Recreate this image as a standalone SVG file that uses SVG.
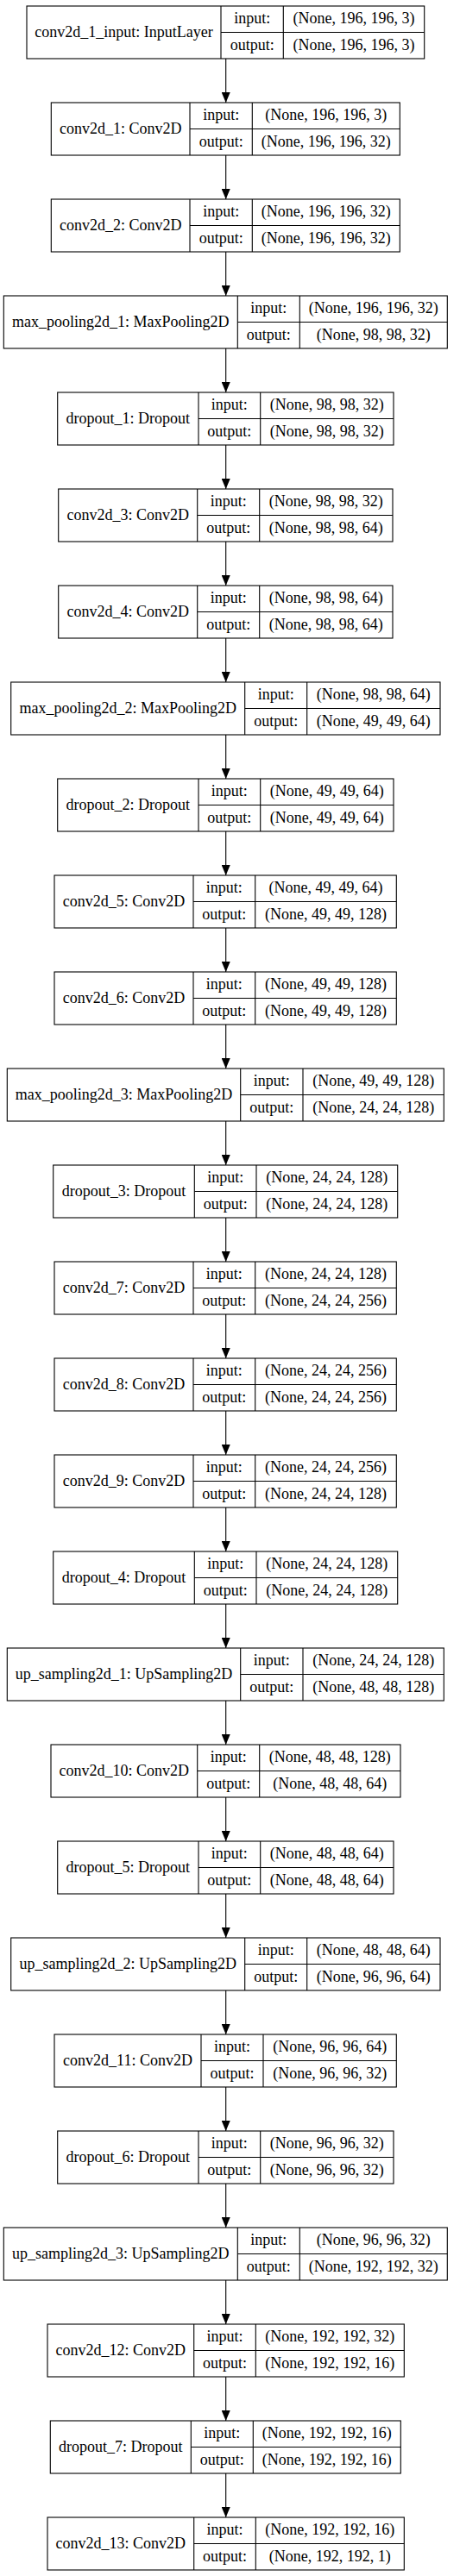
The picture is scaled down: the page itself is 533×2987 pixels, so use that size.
<svg xmlns="http://www.w3.org/2000/svg" width="533" height="2987" viewBox="0 0 533 2987">
<style>
rect{fill:#fff;stroke:#000;stroke-width:1.1}
.n line{stroke:#000;stroke-width:1.1}
text{font-family:"Liberation Serif","Times New Roman",serif;font-size:18px;text-anchor:middle;fill:#000}
.e line{stroke:#000;stroke-width:1.1}
</style>
<defs>
<marker id="ah" markerWidth="12" markerHeight="10" refX="12" refY="5" orient="auto" markerUnits="userSpaceOnUse"><path d="M0,0 L12,5 L0,10 z" fill="#000"/></marker>
</defs>
<rect x="0" y="0" width="533" height="2987" style="stroke:none;fill:#fff"/>
<g class="e" id="connectors">
<line x1="261.7" y1="68" x2="261.7" y2="119" marker-end="url(#ah)"/>
<line x1="261.7" y1="180" x2="261.7" y2="231" marker-end="url(#ah)"/>
<line x1="261.7" y1="292" x2="261.7" y2="343" marker-end="url(#ah)"/>
<line x1="261.7" y1="404" x2="261.7" y2="455" marker-end="url(#ah)"/>
<line x1="261.7" y1="516" x2="261.7" y2="567" marker-end="url(#ah)"/>
<line x1="261.7" y1="628" x2="261.7" y2="679" marker-end="url(#ah)"/>
<line x1="261.7" y1="740" x2="261.7" y2="791" marker-end="url(#ah)"/>
<line x1="261.7" y1="852" x2="261.7" y2="903" marker-end="url(#ah)"/>
<line x1="261.7" y1="964" x2="261.7" y2="1015" marker-end="url(#ah)"/>
<line x1="261.7" y1="1076" x2="261.7" y2="1127" marker-end="url(#ah)"/>
<line x1="261.7" y1="1188" x2="261.7" y2="1239" marker-end="url(#ah)"/>
<line x1="261.7" y1="1300" x2="261.7" y2="1351" marker-end="url(#ah)"/>
<line x1="261.7" y1="1412" x2="261.7" y2="1463" marker-end="url(#ah)"/>
<line x1="261.7" y1="1524" x2="261.7" y2="1575" marker-end="url(#ah)"/>
<line x1="261.7" y1="1636" x2="261.7" y2="1687" marker-end="url(#ah)"/>
<line x1="261.7" y1="1748" x2="261.7" y2="1799" marker-end="url(#ah)"/>
<line x1="261.7" y1="1860" x2="261.7" y2="1911" marker-end="url(#ah)"/>
<line x1="261.7" y1="1972" x2="261.7" y2="2023" marker-end="url(#ah)"/>
<line x1="261.7" y1="2084" x2="261.7" y2="2135" marker-end="url(#ah)"/>
<line x1="261.7" y1="2196" x2="261.7" y2="2247" marker-end="url(#ah)"/>
<line x1="261.7" y1="2308" x2="261.7" y2="2359" marker-end="url(#ah)"/>
<line x1="261.7" y1="2420" x2="261.7" y2="2471" marker-end="url(#ah)"/>
<line x1="261.7" y1="2532" x2="261.7" y2="2583" marker-end="url(#ah)"/>
<line x1="261.7" y1="2644" x2="261.7" y2="2695" marker-end="url(#ah)"/>
<line x1="261.7" y1="2756" x2="261.7" y2="2807" marker-end="url(#ah)"/>
<line x1="261.7" y1="2868" x2="261.7" y2="2919" marker-end="url(#ah)"/>
</g>

<g class="n" id="conv2d_1_input" transform="translate(0,7)">
<rect x="31" y="0" width="460.7" height="61"/>
<line x1="256" y1="0" x2="256" y2="61"/><line x1="328.3" y1="0" x2="328.3" y2="61"/><line x1="256" y1="30.5" x2="491.7" y2="30.5"/>
<text x="143.5" y="35.5">conv2d_1_input: InputLayer</text>
<text x="292.15" y="20.3">input:</text><text x="292.15" y="50.8">output:</text>
<text x="410" y="20.3">(None, 196, 196, 3)</text><text x="410" y="50.8">(None, 196, 196, 3)</text>
</g>

<g class="n" id="conv2d_1" transform="translate(0,119)">
<rect x="59.3" y="0" width="404" height="61"/>
<line x1="220" y1="0" x2="220" y2="61"/><line x1="292.3" y1="0" x2="292.3" y2="61"/><line x1="220" y1="30.5" x2="463.3" y2="30.5"/>
<text x="139.65" y="35.5">conv2d_1: Conv2D</text>
<text x="256.15" y="20.3">input:</text><text x="256.15" y="50.8">output:</text>
<text x="377.8" y="20.3">(None, 196, 196, 3)</text><text x="377.8" y="50.8">(None, 196, 196, 32)</text>
</g>

<g class="n" id="conv2d_2" transform="translate(0,231)">
<rect x="59.3" y="0" width="404" height="61"/>
<line x1="220" y1="0" x2="220" y2="61"/><line x1="292.3" y1="0" x2="292.3" y2="61"/><line x1="220" y1="30.5" x2="463.3" y2="30.5"/>
<text x="139.65" y="35.5">conv2d_2: Conv2D</text>
<text x="256.15" y="20.3">input:</text><text x="256.15" y="50.8">output:</text>
<text x="377.8" y="20.3">(None, 196, 196, 32)</text><text x="377.8" y="50.8">(None, 196, 196, 32)</text>
</g>

<g class="n" id="max_pooling2d_1" transform="translate(0,343)">
<rect x="4.3" y="0" width="514" height="61"/>
<line x1="275.3" y1="0" x2="275.3" y2="61"/><line x1="347.3" y1="0" x2="347.3" y2="61"/><line x1="275.3" y1="30.5" x2="518.3" y2="30.5"/>
<text x="139.8" y="35.5">max_pooling2d_1: MaxPooling2D</text>
<text x="311.3" y="20.3">input:</text><text x="311.3" y="50.8">output:</text>
<text x="432.8" y="20.3">(None, 196, 196, 32)</text><text x="432.8" y="50.8">(None, 98, 98, 32)</text>
</g>

<g class="n" id="dropout_1" transform="translate(0,455)">
<rect x="66.7" y="0" width="389.3" height="61"/>
<line x1="230" y1="0" x2="230" y2="61"/><line x1="301.7" y1="0" x2="301.7" y2="61"/><line x1="230" y1="30.5" x2="456" y2="30.5"/>
<text x="148.35" y="35.5">dropout_1: Dropout</text>
<text x="265.85" y="20.3">input:</text><text x="265.85" y="50.8">output:</text>
<text x="378.85" y="20.3">(None, 98, 98, 32)</text><text x="378.85" y="50.8">(None, 98, 98, 32)</text>
</g>

<g class="n" id="conv2d_3" transform="translate(0,567)">
<rect x="67.7" y="0" width="387.3" height="61"/>
<line x1="228.7" y1="0" x2="228.7" y2="61"/><line x1="300.7" y1="0" x2="300.7" y2="61"/><line x1="228.7" y1="30.5" x2="455" y2="30.5"/>
<text x="148.2" y="35.5">conv2d_3: Conv2D</text>
<text x="264.7" y="20.3">input:</text><text x="264.7" y="50.8">output:</text>
<text x="377.85" y="20.3">(None, 98, 98, 32)</text><text x="377.85" y="50.8">(None, 98, 98, 64)</text>
</g>

<g class="n" id="conv2d_4" transform="translate(0,679)">
<rect x="67.7" y="0" width="387.3" height="61"/>
<line x1="228.7" y1="0" x2="228.7" y2="61"/><line x1="300.7" y1="0" x2="300.7" y2="61"/><line x1="228.7" y1="30.5" x2="455" y2="30.5"/>
<text x="148.2" y="35.5">conv2d_4: Conv2D</text>
<text x="264.7" y="20.3">input:</text><text x="264.7" y="50.8">output:</text>
<text x="377.85" y="20.3">(None, 98, 98, 64)</text><text x="377.85" y="50.8">(None, 98, 98, 64)</text>
</g>

<g class="n" id="max_pooling2d_2" transform="translate(0,791)">
<rect x="12.7" y="0" width="497.3" height="61"/>
<line x1="283.7" y1="0" x2="283.7" y2="61"/><line x1="355.7" y1="0" x2="355.7" y2="61"/><line x1="283.7" y1="30.5" x2="510" y2="30.5"/>
<text x="148.2" y="35.5">max_pooling2d_2: MaxPooling2D</text>
<text x="319.7" y="20.3">input:</text><text x="319.7" y="50.8">output:</text>
<text x="432.85" y="20.3">(None, 98, 98, 64)</text><text x="432.85" y="50.8">(None, 49, 49, 64)</text>
</g>

<g class="n" id="dropout_2" transform="translate(0,903)">
<rect x="66.7" y="0" width="389.3" height="61"/>
<line x1="230" y1="0" x2="230" y2="61"/><line x1="301.7" y1="0" x2="301.7" y2="61"/><line x1="230" y1="30.5" x2="456" y2="30.5"/>
<text x="148.35" y="35.5">dropout_2: Dropout</text>
<text x="265.85" y="20.3">input:</text><text x="265.85" y="50.8">output:</text>
<text x="378.85" y="20.3">(None, 49, 49, 64)</text><text x="378.85" y="50.8">(None, 49, 49, 64)</text>
</g>

<g class="n" id="conv2d_5" transform="translate(0,1015)">
<rect x="63" y="0" width="396.3" height="61"/>
<line x1="224" y1="0" x2="224" y2="61"/><line x1="295.7" y1="0" x2="295.7" y2="61"/><line x1="224" y1="30.5" x2="459.3" y2="30.5"/>
<text x="143.5" y="35.5">conv2d_5: Conv2D</text>
<text x="259.85" y="20.3">input:</text><text x="259.85" y="50.8">output:</text>
<text x="377.5" y="20.3">(None, 49, 49, 64)</text><text x="377.5" y="50.8">(None, 49, 49, 128)</text>
</g>

<g class="n" id="conv2d_6" transform="translate(0,1127)">
<rect x="63" y="0" width="396.3" height="61"/>
<line x1="224" y1="0" x2="224" y2="61"/><line x1="295.7" y1="0" x2="295.7" y2="61"/><line x1="224" y1="30.5" x2="459.3" y2="30.5"/>
<text x="143.5" y="35.5">conv2d_6: Conv2D</text>
<text x="259.85" y="20.3">input:</text><text x="259.85" y="50.8">output:</text>
<text x="377.5" y="20.3">(None, 49, 49, 128)</text><text x="377.5" y="50.8">(None, 49, 49, 128)</text>
</g>

<g class="n" id="max_pooling2d_3" transform="translate(0,1239)">
<rect x="8.3" y="0" width="506" height="61"/>
<line x1="278.7" y1="0" x2="278.7" y2="61"/><line x1="351" y1="0" x2="351" y2="61"/><line x1="278.7" y1="30.5" x2="514.3" y2="30.5"/>
<text x="143.5" y="35.5">max_pooling2d_3: MaxPooling2D</text>
<text x="314.85" y="20.3">input:</text><text x="314.85" y="50.8">output:</text>
<text x="432.65" y="20.3">(None, 49, 49, 128)</text><text x="432.65" y="50.8">(None, 24, 24, 128)</text>
</g>

<g class="n" id="dropout_3" transform="translate(0,1351)">
<rect x="61.7" y="0" width="399" height="61"/>
<line x1="225.3" y1="0" x2="225.3" y2="61"/><line x1="297" y1="0" x2="297" y2="61"/><line x1="225.3" y1="30.5" x2="460.7" y2="30.5"/>
<text x="143.5" y="35.5">dropout_3: Dropout</text>
<text x="261.15" y="20.3">input:</text><text x="261.15" y="50.8">output:</text>
<text x="378.85" y="20.3">(None, 24, 24, 128)</text><text x="378.85" y="50.8">(None, 24, 24, 128)</text>
</g>

<g class="n" id="conv2d_7" transform="translate(0,1463)">
<rect x="63" y="0" width="396.3" height="61"/>
<line x1="224" y1="0" x2="224" y2="61"/><line x1="295.7" y1="0" x2="295.7" y2="61"/><line x1="224" y1="30.5" x2="459.3" y2="30.5"/>
<text x="143.5" y="35.5">conv2d_7: Conv2D</text>
<text x="259.85" y="20.3">input:</text><text x="259.85" y="50.8">output:</text>
<text x="377.5" y="20.3">(None, 24, 24, 128)</text><text x="377.5" y="50.8">(None, 24, 24, 256)</text>
</g>

<g class="n" id="conv2d_8" transform="translate(0,1575)">
<rect x="63" y="0" width="396.3" height="61"/>
<line x1="224" y1="0" x2="224" y2="61"/><line x1="295.7" y1="0" x2="295.7" y2="61"/><line x1="224" y1="30.5" x2="459.3" y2="30.5"/>
<text x="143.5" y="35.5">conv2d_8: Conv2D</text>
<text x="259.85" y="20.3">input:</text><text x="259.85" y="50.8">output:</text>
<text x="377.5" y="20.3">(None, 24, 24, 256)</text><text x="377.5" y="50.8">(None, 24, 24, 256)</text>
</g>

<g class="n" id="conv2d_9" transform="translate(0,1687)">
<rect x="63" y="0" width="396.3" height="61"/>
<line x1="224" y1="0" x2="224" y2="61"/><line x1="295.7" y1="0" x2="295.7" y2="61"/><line x1="224" y1="30.5" x2="459.3" y2="30.5"/>
<text x="143.5" y="35.5">conv2d_9: Conv2D</text>
<text x="259.85" y="20.3">input:</text><text x="259.85" y="50.8">output:</text>
<text x="377.5" y="20.3">(None, 24, 24, 256)</text><text x="377.5" y="50.8">(None, 24, 24, 128)</text>
</g>

<g class="n" id="dropout_4" transform="translate(0,1799)">
<rect x="61.7" y="0" width="399" height="61"/>
<line x1="225.3" y1="0" x2="225.3" y2="61"/><line x1="297" y1="0" x2="297" y2="61"/><line x1="225.3" y1="30.5" x2="460.7" y2="30.5"/>
<text x="143.5" y="35.5">dropout_4: Dropout</text>
<text x="261.15" y="20.3">input:</text><text x="261.15" y="50.8">output:</text>
<text x="378.85" y="20.3">(None, 24, 24, 128)</text><text x="378.85" y="50.8">(None, 24, 24, 128)</text>
</g>

<g class="n" id="up_sampling2d_1" transform="translate(0,1911)">
<rect x="8.3" y="0" width="506" height="61"/>
<line x1="278.7" y1="0" x2="278.7" y2="61"/><line x1="351" y1="0" x2="351" y2="61"/><line x1="278.7" y1="30.5" x2="514.3" y2="30.5"/>
<text x="143.5" y="35.5">up_sampling2d_1: UpSampling2D</text>
<text x="314.85" y="20.3">input:</text><text x="314.85" y="50.8">output:</text>
<text x="432.65" y="20.3">(None, 24, 24, 128)</text><text x="432.65" y="50.8">(None, 48, 48, 128)</text>
</g>

<g class="n" id="conv2d_10" transform="translate(0,2023)">
<rect x="59" y="0" width="405" height="61"/>
<line x1="228.7" y1="0" x2="228.7" y2="61"/><line x1="300.7" y1="0" x2="300.7" y2="61"/><line x1="228.7" y1="30.5" x2="464" y2="30.5"/>
<text x="143.85" y="35.5">conv2d_10: Conv2D</text>
<text x="264.7" y="20.3">input:</text><text x="264.7" y="50.8">output:</text>
<text x="382.35" y="20.3">(None, 48, 48, 128)</text><text x="382.35" y="50.8">(None, 48, 48, 64)</text>
</g>

<g class="n" id="dropout_5" transform="translate(0,2135)">
<rect x="66.7" y="0" width="389.3" height="61"/>
<line x1="230" y1="0" x2="230" y2="61"/><line x1="301.7" y1="0" x2="301.7" y2="61"/><line x1="230" y1="30.5" x2="456" y2="30.5"/>
<text x="148.35" y="35.5">dropout_5: Dropout</text>
<text x="265.85" y="20.3">input:</text><text x="265.85" y="50.8">output:</text>
<text x="378.85" y="20.3">(None, 48, 48, 64)</text><text x="378.85" y="50.8">(None, 48, 48, 64)</text>
</g>

<g class="n" id="up_sampling2d_2" transform="translate(0,2247)">
<rect x="12.7" y="0" width="497.3" height="61"/>
<line x1="283.7" y1="0" x2="283.7" y2="61"/><line x1="355.7" y1="0" x2="355.7" y2="61"/><line x1="283.7" y1="30.5" x2="510" y2="30.5"/>
<text x="148.2" y="35.5">up_sampling2d_2: UpSampling2D</text>
<text x="319.7" y="20.3">input:</text><text x="319.7" y="50.8">output:</text>
<text x="432.85" y="20.3">(None, 48, 48, 64)</text><text x="432.85" y="50.8">(None, 96, 96, 64)</text>
</g>

<g class="n" id="conv2d_11" transform="translate(0,2359)">
<rect x="63" y="0" width="396.3" height="61"/>
<line x1="233" y1="0" x2="233" y2="61"/><line x1="305" y1="0" x2="305" y2="61"/><line x1="233" y1="30.5" x2="459.3" y2="30.5"/>
<text x="148" y="35.5">conv2d_11: Conv2D</text>
<text x="269" y="20.3">input:</text><text x="269" y="50.8">output:</text>
<text x="382.15" y="20.3">(None, 96, 96, 64)</text><text x="382.15" y="50.8">(None, 96, 96, 32)</text>
</g>

<g class="n" id="dropout_6" transform="translate(0,2471)">
<rect x="66.7" y="0" width="389.3" height="61"/>
<line x1="230" y1="0" x2="230" y2="61"/><line x1="301.7" y1="0" x2="301.7" y2="61"/><line x1="230" y1="30.5" x2="456" y2="30.5"/>
<text x="148.35" y="35.5">dropout_6: Dropout</text>
<text x="265.85" y="20.3">input:</text><text x="265.85" y="50.8">output:</text>
<text x="378.85" y="20.3">(None, 96, 96, 32)</text><text x="378.85" y="50.8">(None, 96, 96, 32)</text>
</g>

<g class="n" id="up_sampling2d_3" transform="translate(0,2583)">
<rect x="4.3" y="0" width="514" height="61"/>
<line x1="275.3" y1="0" x2="275.3" y2="61"/><line x1="347.3" y1="0" x2="347.3" y2="61"/><line x1="275.3" y1="30.5" x2="518.3" y2="30.5"/>
<text x="139.8" y="35.5">up_sampling2d_3: UpSampling2D</text>
<text x="311.3" y="20.3">input:</text><text x="311.3" y="50.8">output:</text>
<text x="432.8" y="20.3">(None, 96, 96, 32)</text><text x="432.8" y="50.8">(None, 192, 192, 32)</text>
</g>

<g class="n" id="conv2d_12" transform="translate(0,2695)">
<rect x="55" y="0" width="413.3" height="61"/>
<line x1="224.7" y1="0" x2="224.7" y2="61"/><line x1="296.3" y1="0" x2="296.3" y2="61"/><line x1="224.7" y1="30.5" x2="468.3" y2="30.5"/>
<text x="139.85" y="35.5">conv2d_12: Conv2D</text>
<text x="260.5" y="20.3">input:</text><text x="260.5" y="50.8">output:</text>
<text x="382.3" y="20.3">(None, 192, 192, 32)</text><text x="382.3" y="50.8">(None, 192, 192, 16)</text>
</g>

<g class="n" id="dropout_7" transform="translate(0,2807)">
<rect x="58.3" y="0" width="406" height="61"/>
<line x1="221.3" y1="0" x2="221.3" y2="61"/><line x1="293.3" y1="0" x2="293.3" y2="61"/><line x1="221.3" y1="30.5" x2="464.3" y2="30.5"/>
<text x="139.8" y="35.5">dropout_7: Dropout</text>
<text x="257.3" y="20.3">input:</text><text x="257.3" y="50.8">output:</text>
<text x="378.8" y="20.3">(None, 192, 192, 16)</text><text x="378.8" y="50.8">(None, 192, 192, 16)</text>
</g>

<g class="n" id="conv2d_13" transform="translate(0,2919)">
<rect x="55" y="0" width="413.3" height="61"/>
<line x1="224.7" y1="0" x2="224.7" y2="61"/><line x1="296.3" y1="0" x2="296.3" y2="61"/><line x1="224.7" y1="30.5" x2="468.3" y2="30.5"/>
<text x="139.85" y="35.5">conv2d_13: Conv2D</text>
<text x="260.5" y="20.3">input:</text><text x="260.5" y="50.8">output:</text>
<text x="382.3" y="20.3">(None, 192, 192, 16)</text><text x="382.3" y="50.8">(None, 192, 192, 1)</text>
</g>
</svg>
